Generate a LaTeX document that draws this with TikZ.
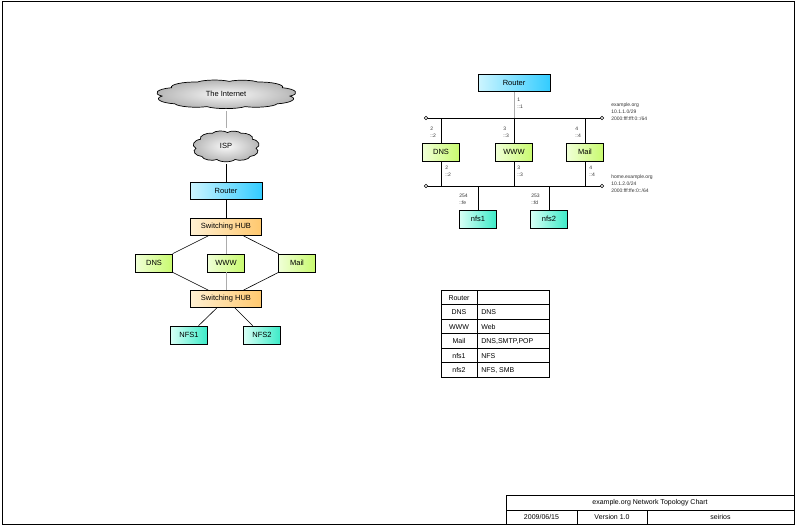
\documentclass[tikz,border=0pt]{standalone}
\usepackage{fontspec}
\setmainfont{Liberation Sans}
\usetikzlibrary{positioning}
\definecolor{routerpale}{RGB}{205,245,255}
\definecolor{routerblue}{RGB}{51,204,255}
\definecolor{hubpale}{RGB}{255,240,210}
\definecolor{huborange}{RGB}{255,200,110}
\definecolor{srvpale}{RGB}{240,255,215}
\definecolor{srvgreen}{RGB}{200,250,110}
\definecolor{nfspale}{RGB}{215,255,245}
\definecolor{nfsteal}{RGB}{60,235,200}
% cloud outline in a unit box, bumps bulging outwards
\newcommand{\cloudpath}{(-1,0.15) to (-0.85,-0.45) to (-0.45,-0.85) to (0.05,-0.9)
    to (0.5,-0.85) to (0.88,-0.45) to (1,0.15) to (0.8,0.7) to (0.3,0.9)
    to (-0.3,0.9) to (-0.8,0.7) to (-1,0.15) -- cycle}
\begin{document}
\begin{tikzpicture}[x=1pt, y=-1pt, line width=0.6pt,
    box/.style={draw, line width=0.7pt, minimum height=17, inner sep=0, font=\fontsize{7.5}{9}\selectfont},
    rtr/.style={box, minimum width=72, left color=routerpale, right color=routerblue},
    hub/.style={box, minimum width=71, left color=hubpale, right color=huborange},
    srv/.style={box, minimum width=37, minimum height=18, left color=srvpale, right color=srvgreen},
    nfs/.style={box, minimum width=37, minimum height=18, left color=nfspale, right color=nfsteal},
    puff/.style={line width=0.7pt, inner color=gray!5, outer color=gray!60},
    net/.style={inner sep=0, font=\fontsize{7.5}{9}\selectfont},
    port/.style={font=\fontsize{5}{7}\selectfont, align=left, inner sep=0, anchor=north west, text=black!80},
    cell/.style={font=\fontsize{7}{8}\selectfont, inner sep=0},
    link/.style={draw=gray!65, line width=1pt}]
\useasboundingbox (0,0) rectangle (797,527);
\draw[line width=1pt] (2,2) rectangle (794,524);

% left: physical view
\draw[puff, shift={(226,94)}, xscale=64, yscale=14, every to/.style={bend left=55}] \cloudpath;
\draw[puff, shift={(226,146)}, xscale=30, yscale=15, every to/.style={bend left=60}] \cloudpath;
\node[net, minimum width=130, minimum height=34] (inet) at (226,94) {The Internet};
\node[net, minimum width=66, minimum height=35] (isp) at (226,146) {ISP};
\node[rtr] (r1) at (226,191) {Router};
\node[hub] (h1) at (226,227) {Switching HUB};
\node[srv] (dns1) at (154,263) {DNS};
\node[srv] (www1) at (226,263) {WWW};
\node[srv] (mail1) at (297,263) {Mail};
\node[hub] (h2) at (226,299) {Switching HUB};
\node[nfs] (nfs1a) at (189,335) {NFS1};
\node[nfs] (nfs2a) at (262,335) {NFS2};
\draw[link] (inet) -- (isp);
\draw (isp) -- (r1) -- (h1);
\draw (h1) -- (dns1) -- (h2);
\draw (h1) -- (mail1) -- (h2);
\draw[link] (h1) -- (www1) -- (h2);
\draw (h2) -- (nfs1a) (h2) -- (nfs2a);

% right: networks
\node[rtr] (r2) at (514,83) {Router};
\node[srv] (dns2) at (441,152) {DNS};
\node[srv] (www2) at (514,152) {WWW};
\node[srv] (mail2) at (585,152) {Mail};
\node[nfs] (nfs1b) at (478,219) {nfs1};
\node[nfs] (nfs2b) at (549,219) {nfs2};
\coordinate (b1w) at (426,118);
\coordinate (b1e) at (602,118);
\coordinate (b2w) at (426,186);
\coordinate (b2e) at (602,186);
\draw (b1w) -- (b1e);
\draw (b2w) -- (b2e);
\foreach \c in {b1w,b1e,b2w,b2e}
    \draw[fill=white, line width=0.6pt] (\c) circle (1.8);
\draw[link] (r2) -- (r2 |- b1w);
\foreach \n in {dns2,www2,mail2}
    \draw (\n |- b1w) -- (\n) -- (\n |- b2w);
\draw (nfs1b |- b2w) -- (nfs1b);
\draw (nfs2b |- b2w) -- (nfs2b);
\node[port] (p1) at (517,98) {1\\::1};
\node[port] (p2) at (430,127) {2\\::2};
\node[port] (p3) at (503,127) {3\\::3};
\node[port] (p4) at (575,127) {4\\::4};
\node[port] (q2) at (445,166) {2\\::2};
\node[port] (q3) at (517,166) {3\\::3};
\node[port] (q4) at (589,166) {4\\::4};
\node[port] (q5) at (459,194) {254\\::fe};
\node[port] (q6) at (531,194) {253\\::fd};
\node[port] (n1) at (611,103) {example.org\\10.1.1.0/29\\2000:fff:fff:0::/64};
\node[port] (n2) at (611,175) {home.example.org\\10.1.2.0/24\\2000:fff:ffe:0::/64};

% table of services
\draw[line width=0.7pt] (441,290) rectangle (549,377);
\draw[line width=0.7pt] (477,290) -- (477,377);
\foreach \i in {1,...,5}
    \draw[line width=0.7pt] (441,{290+14.5*\i}) -- (549,{290+14.5*\i});
\foreach \a/\b [count=\i] in {Router/, DNS/DNS, WWW/Web, Mail/{DNS,SMTP,POP}, nfs1/NFS, nfs2/{NFS, SMB}} {
    \node[cell] (k\i) at (459,{283.25+14.5*\i}) {\a};
    \node[cell, anchor=west] (v\i) at (481,{283.25+14.5*\i}) {\b};
}

% title block
\draw[line width=0.7pt] (506,495) rectangle (794,524);
\draw[line width=0.7pt] (506,510) -- (794,510);
\draw[line width=0.7pt] (577,510) -- (577,524);
\draw[line width=0.7pt] (647,510) -- (647,524);
\node[cell] (title) at (650,502.5) {example.org Network Topology Chart};
\node[cell] (date) at (541.5,517) {2009/06/15};
\node[cell] (ver) at (612,517) {Version 1.0};
\node[cell] (auth) at (720.5,517) {seirios};
\end{tikzpicture}
\end{document}
